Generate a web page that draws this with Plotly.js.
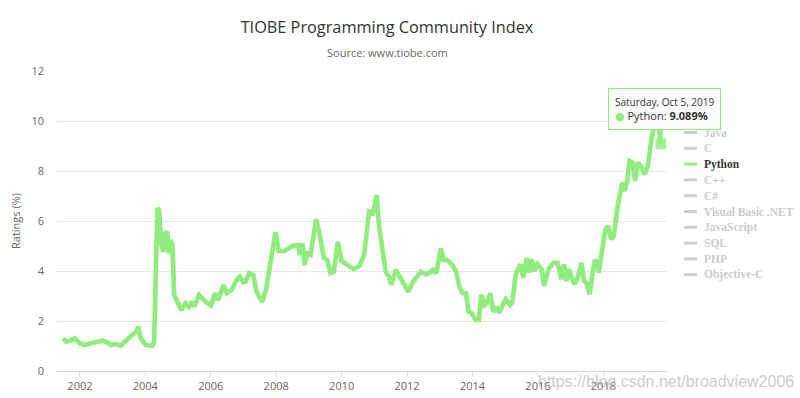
<!DOCTYPE html>
<html><head><meta charset="utf-8">
<script src="https://cdn.plot.ly/plotly-3.0.1.min.js"></script>
<style>html,body{margin:0;padding:0;background:#fff}#chart{width:800px;height:398px}</style>
</head><body><div id="chart"></div>
<script>
// Python rating (%), as decimal years
const years = [
2001.48,2001.58,2001.74,2001.84,2001.99,2002.14,2002.34,2002.55,2002.70,2002.80,2002.95,2003.10,2003.26,2003.46,2003.61,2003.71,2003.79,2003.86,2004.02,2004.22,2004.27,
2004.37,2004.42,2004.49,2004.55,2004.62,2004.67,2004.72,2004.77,2004.83,2004.88,2004.98,2005.10,2005.23,2005.33,2005.43,2005.50,2005.64,2005.84,2006.01,
2006.13,2006.23,2006.39,2006.49,2006.64,2006.79,2006.89,2006.99,2007.07,2007.17,2007.30,2007.40,2007.50,2007.57,2007.70,2007.86,2007.98,
2008.08,2008.26,2008.51,2008.67,2008.72,2008.80,2008.87,2008.95,2009.05,2009.12,2009.22,2009.33,2009.46,2009.56,2009.66,2009.76,2009.88,
2010.00,2010.19,2010.36,2010.54,2010.69,2010.84,2010.95,2011.00,2011.07,2011.15,2011.25,2011.35,2011.45,2011.52,2011.66,2011.78,2011.91,
2012.04,2012.18,2012.28,2012.42,2012.57,2012.67,2012.79,2012.89,2012.97,2013.03,2013.12,2013.23,2013.38,2013.50,2013.60,2013.70,2013.80,2013.88,2013.98,
2014.09,2014.19,2014.27,2014.37,2014.44,2014.54,2014.64,2014.73,2014.82,2014.92,2015.02,2015.15,2015.22,2015.32,2015.46,2015.56,2015.66,2015.73,2015.81,2015.89,2015.99,
2016.11,2016.19,2016.32,2016.47,2016.60,2016.72,2016.80,2016.87,2016.95,2017.03,2017.13,2017.23,2017.33,2017.41,2017.48,2017.58,2017.68,2017.75,2017.86,2017.96,
2018.06,2018.14,2018.24,2018.32,2018.44,2018.57,2018.65,2018.73,2018.80,2018.90,2018.97,2019.05,2019.15,2019.26,2019.36,2019.46,2019.56,2019.67,2019.76
];
const ratings = [
1.31,1.17,1.24,1.31,1.11,1.04,1.11,1.17,1.21,1.17,1.04,1.08,1.01,1.28,1.44,1.57,1.77,1.31,1.04,1.01,1.17,
6.51,6.44,5.04,4.77,5.51,5.57,4.71,5.24,5.04,3.04,2.77,2.44,2.71,2.57,2.77,2.57,3.04,2.77,2.61,
3.11,2.84,3.44,3.11,3.24,3.64,3.77,3.55,3.57,3.91,3.84,3.17,2.97,2.77,3.31,4.44,5.55,
4.80,4.80,5.01,5.04,4.64,5.11,4.24,4.71,4.64,5.17,6.08,5.44,4.51,4.44,3.91,3.97,5.17,
4.40,4.24,4.08,4.20,4.64,6.37,6.31,6.57,7.04,5.77,4.77,3.97,3.77,3.44,4.04,3.77,3.51,
3.17,3.57,3.77,3.97,3.87,3.91,4.04,3.91,4.44,4.91,4.44,4.44,4.24,3.97,3.37,3.11,3.11,2.37,2.31,
2.04,2.04,3.04,2.64,2.71,3.11,2.37,2.57,2.33,2.64,2.87,2.64,2.77,3.85,4.27,3.73,4.53,3.93,4.47,4.00,4.27,
4.07,3.40,4.07,4.33,4.33,3.67,4.27,3.60,4.07,3.73,3.47,3.80,4.33,3.60,3.53,3.07,4.00,4.47,3.93,4.87,
5.67,5.80,5.27,5.40,6.60,7.53,7.20,7.60,8.40,8.33,7.60,8.33,8.20,7.87,8.20,9.13,9.93,10.02,9.089
];
const languages = ['Java','C','Python','C++','C#','Visual Basic .NET','JavaScript','SQL','PHP','Objective-C'];
const shownLanguage = 'Python';
const tooltipDateLabel = 'Saturday, Oct 5, 2019';
const tooltipValueLabel = '9.089%';
const titleText = 'TIOBE Programming Community Index';
const subtitleText = 'Source: www.tiobe.com';
const yTitle = 'Ratings (%)';
const watermark = 'https://blog.csdn.net/broadview2006';

const GREEN = '#90ed7d';
const HIDDEN = '#cccccc';
// plot area in pixels
const PL = 57, PR = 667, PT = 71, PB = 371, W = 800, H = 398;
const px2x = p => (p - PL) / (PR - PL);
const px2y = p => (PB - p) / (PB - PT);

function toDate(y){
  const yr = Math.floor(y);
  const s = Date.UTC(yr,0,1), e = Date.UTC(yr+1,0,1);
  return new Date(s + (y-yr)*(e-s)).toISOString().slice(0,10);
}
const dates = years.map(toDate);
const lastDate = dates[dates.length-1];
const lastVal = ratings[ratings.length-1];

const traces = [
  {type:'scatter', mode:'lines', name:shownLanguage, x:dates, y:ratings,
   line:{color:GREEN, width:4.7, shape:'linear'}, hoverinfo:'skip', showlegend:false},
  {type:'scatter', mode:'markers', x:[lastDate], y:[lastVal], showlegend:false, hoverinfo:'skip',
   marker:{symbol:'square', size:11, color:'rgba(144,237,125,0.8)', line:{width:0}}}
];

// legend (Highcharts-style, one shown series, others hidden)
const legendShapes = [], legendAnns = [];
const LEG_TOP = 132.5, LEG_STEP = 15.8;
languages.forEach((name, i) => {
  const yc = px2y(LEG_TOP + i*LEG_STEP);
  const on = name === shownLanguage;
  legendShapes.push({type:'line', xref:'paper', yref:'paper', x0:px2x(684), x1:px2x(697), y0:yc, y1:yc,
    line:{color: on ? GREEN : HIDDEN, width:3}, layer:'above'});
  legendAnns.push({text:'<b>'+name+'</b>', xref:'paper', yref:'paper', x:px2x(702), y:yc, xanchor:'left', yanchor:'middle',
    showarrow:false, font:{family:'"Liberation Serif", "Times New Roman", serif', size:11.5, color: on ? '#333333' : HIDDEN}});
});

const layout = {
  width:W, height:H,
  paper_bgcolor:'#ffffff', plot_bgcolor:'#ffffff',
  margin:{l:PL, r:W-PR, t:PT, b:H-PB},
  font:{family:'"Open Sans", "DejaVu Sans", sans-serif', color:'#666666', size:11},
  title:{text:titleText, x:387/W, xanchor:'center', xref:'container', y:1-27/H, yref:'container', yanchor:'middle',
    font:{family:'"Open Sans", sans-serif', size:16.3, color:'#333333'}},
  xaxis:{type:'date', range:['2001-04-20','2019-12-12'], tick0:'2002-01-01', dtick:'M24', tickformat:'%Y',
    showgrid:false, showline:true, linecolor:'#ccd6eb', linewidth:1, ticks:'outside', ticklen:5, tickcolor:'#dde3ee',
    tickfont:{size:11, color:'#666666'}, zeroline:false, fixedrange:true},
  yaxis:{range:[0,12], dtick:2, tick0:0, showgrid:true, gridcolor:'#e6e6e6', gridwidth:1, zeroline:false, showline:false,
    ticks:'', ticklabelstandoff:12, tickfont:{size:11, color:'#666666'}, fixedrange:true,
    title:{text:yTitle, font:{size:11, color:'#666666'}, standoff:8}},
  showlegend:false,
  hovermode:false,
  shapes: legendShapes,
  annotations: [
    {text:subtitleText, xref:'paper', yref:'paper', x:px2x(387), y:px2y(52), xanchor:'center', yanchor:'middle',
      showarrow:false, font:{size:11, color:'#666666'}},
    ...legendAnns,
    {text:'<span style="font-size:10px">'+tooltipDateLabel+'</span><br><span style="color:'+GREEN+'">●</span> '+shownLanguage+': <b>'+tooltipValueLabel+'</b>',
      x:lastDate, y:lastVal, xref:'x', yref:'y', showarrow:true, arrowhead:0, arrowwidth:1, arrowcolor:GREEN,
      ax:4, ay:-35, standoff:4, align:'left', bgcolor:'rgba(252,252,252,0.97)', bordercolor:GREEN, borderwidth:1, borderpad:6,
      font:{size:11, color:'#333333'}},
    {text:watermark, xref:'paper', yref:'paper', x:px2x(796), y:px2y(381), xanchor:'right', yanchor:'middle', showarrow:false,
      font:{family:'"Liberation Sans", Arial, sans-serif', size:16, color:'rgba(185,185,185,0.75)'}}
  ]
};
Plotly.newPlot('chart', traces, layout, {displayModeBar:false, responsive:false});
</script></body></html>
